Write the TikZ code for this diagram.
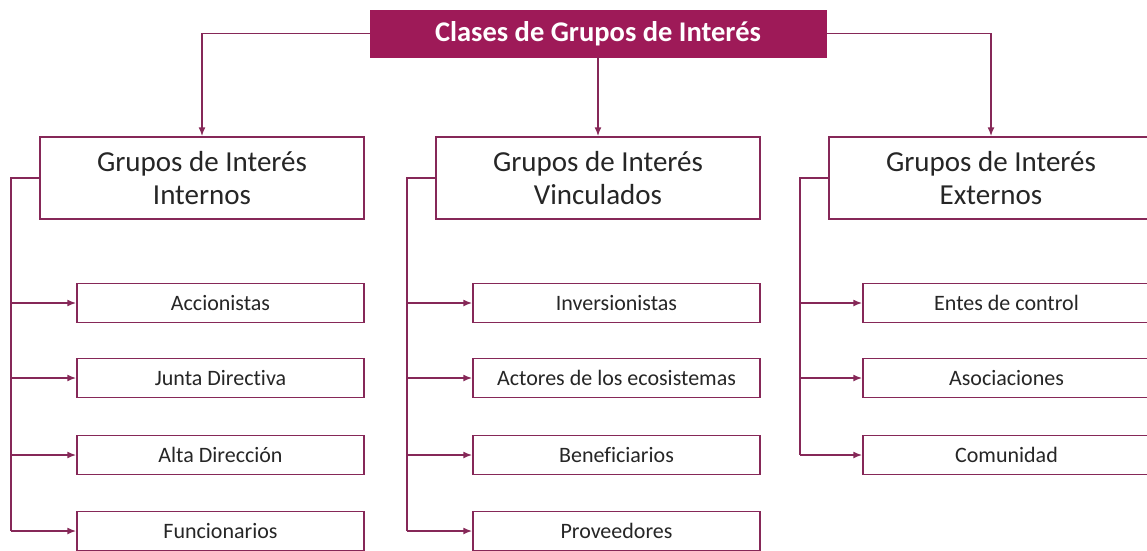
\documentclass[tikz,border=0pt]{standalone}
\usepackage{fontspec}
\setmainfont[Ligatures=NoCommon]{Carlito}
\usetikzlibrary{arrows.meta}
\definecolor{mag}{HTML}{9E1A58}
\definecolor{lin}{HTML}{862858}
\tikzset{
  titlebox/.style={fill=mag,draw=mag,text=white,font=\fontsize{28.5}{31}\selectfont\bfseries,minimum width=456pt,minimum height=47pt,inner sep=0pt},
  headbox/.style={draw=lin,line width=1.4pt,fill=white,text=black!85,font=\fontsize{29}{33}\selectfont,align=center,minimum width=324pt,minimum height=82pt,inner sep=0pt},
  childbox/.style={draw=lin,line width=1.4pt,fill=white,text=black!85,font=\fontsize{22}{24}\selectfont,minimum width=287pt,minimum height=39pt,inner sep=0pt},
  link/.style={draw=lin,line width=1.7pt},
  conn/.style={link,-{Latex[length=9pt,width=7pt]}}
}
\begin{document}
\begin{tikzpicture}[x=1pt,y=-1pt]
\clip (0,0) rectangle (1147,550);
\useasboundingbox (0,0) rectangle (1147,550);
\node[titlebox] (t) at (598,33.5) {Clases de Grupos de Interés};
\node[headbox] (h1) at (202,178) {Grupos de Interés\\Internos};
\node[headbox] (h2) at (598,178) {Grupos de Interés\\Vinculados};
\node[headbox] (h3) at (991,178) {Grupos de Interés\\Externos};
\draw[conn] (t.west) -| (h1.north);
\draw[conn] (t.south) -- (h2.north);
\draw[conn] (t.east) -| (h3.north);
% Internos
\node[childbox] (a1) at (220.5,303) {Accionistas};
\node[childbox] (a2) at (220.5,378) {Junta Directiva};
\node[childbox] (a3) at (220.5,455) {Alta Dirección};
\node[childbox] (a4) at (220.5,531) {Funcionarios};
\coordinate (ba) at (11,178);
\draw[link] (h1.west) -- (ba) -- (ba |- a4.west);
\foreach \n in {a1,a2,a3,a4} \draw[conn] (ba |- \n.west) -- (\n.west);
% Vinculados
\node[childbox] (b1) at (616.5,303) {Inversionistas};
\node[childbox] (b2) at (616.5,378) {Actores de los ecosistemas};
\node[childbox] (b3) at (616.5,455) {Beneficiarios};
\node[childbox] (b4) at (616.5,531) {Proveedores};
\coordinate (bb) at (407,178);
\draw[link] (h2.west) -- (bb) -- (bb |- b4.west);
\foreach \n in {b1,b2,b3,b4} \draw[conn] (bb |- \n.west) -- (\n.west);
% Externos
\node[childbox] (c1) at (1006.5,303) {Entes de control};
\node[childbox] (c2) at (1006.5,378) {Asociaciones};
\node[childbox] (c3) at (1006.5,455) {Comunidad};
\coordinate (bc) at (800,178);
\draw[link] (h3.west) -- (bc) -- (bc |- c3.west);
\foreach \n in {c1,c2,c3} \draw[conn] (bc |- \n.west) -- (\n.west);
\end{tikzpicture}
\end{document}
